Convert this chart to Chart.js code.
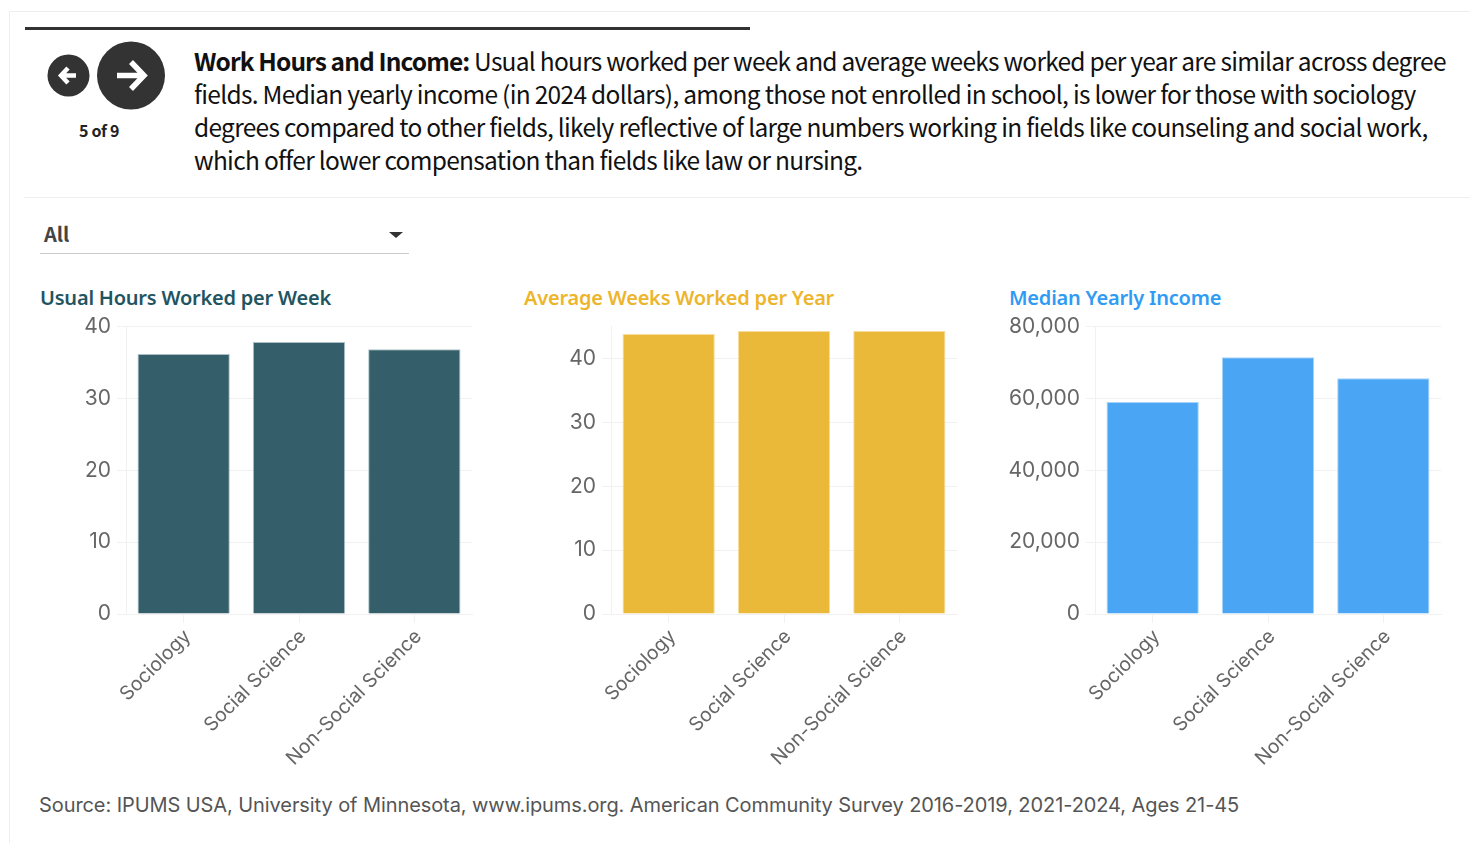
<!DOCTYPE html>
<html>
<head>
<meta charset="utf-8">
<script src="https://cdn.jsdelivr.net/npm/chart.js@4"></script>
<style>
  html, body { margin: 0; padding: 0; background: #fff; }
  body { width: 1470px; height: 843px; position: relative; overflow: hidden; font-family: "Noto Sans", sans-serif; }
  .abs { position: absolute; white-space: nowrap; }
  .line { font-family: "Noto Sans CJK SC", sans-serif; font-size: 24.5px; letter-spacing: -0.7px; color: #111; line-height: 33px; left: 194px; }
  .line b { font-weight: 700; letter-spacing: -0.9px; }
  .title { font-size: 20px; font-weight: 600; font-family: "Noto Sans", sans-serif; letter-spacing: -0.22px; top: 284px; }
  canvas { display: block; }
  .chart { position: absolute; top: 308px; width: 440px; height: 479px; }
</style>
</head>
<body>
<div class="abs" style="left:9px;top:11px;width:1461px;height:832px;border-left:1px solid #eee;border-top:1px solid #eee;box-sizing:border-box"></div>
<div class="abs" style="left:25px;top:27px;width:725px;height:3px;background:#333"></div>

<svg class="abs" style="left:47px;top:41px" width="120" height="70" viewBox="0 0 120 70">
  <circle cx="21.500" cy="34.500" r="21" fill="#333"/>
  <circle cx="84" cy="34.500" r="34" fill="#333"/>
  <path d="M29 34.500H15M21 27l-7 7.500 7 7.500" fill="none" stroke="#fff" stroke-width="4.500"/>
  <path d="M70 34.500h26M84 21l13 13.500-13 13.500" fill="none" stroke="#fff" stroke-width="5.500"/>
</svg>
<div class="abs" style="left:79px;top:118px;font-family:'Noto Sans CJK SC',sans-serif;font-size:16px;font-weight:700;letter-spacing:-0.3px;color:#222">5 of 9</div>

<div class="abs line" style="top:44px;letter-spacing:-0.74px"><b>Work Hours and Income:</b> Usual hours worked per week and average weeks worked per year are similar across degree</div>
<div class="abs line" style="top:77px">fields. Median yearly income (in 2024 dollars), among those not enrolled in school, is lower for those with sociology</div>
<div class="abs line" style="top:110px">degrees compared to other fields, likely reflective of large numbers working in fields like counseling and social work,</div>
<div class="abs line" style="top:143px">which offer lower compensation than fields like law or nursing.</div>

<div class="abs" style="left:24px;top:197px;width:1446px;height:1px;background:#eee"></div>
<div class="abs" style="left:44px;top:219px;font-family:'Noto Sans CJK SC',sans-serif;font-size:20px;font-weight:700;color:#444">All</div>
<div class="abs" style="left:389px;top:232px;width:0;height:0;border-left:7px solid transparent;border-right:7px solid transparent;border-top:6px solid #333"></div>
<div class="abs" style="left:40px;top:253px;width:369px;height:1px;background:#ccc"></div>

<div class="abs title" style="left:40px;color:#1f5561">Usual Hours Worked per Week</div>
<div class="abs title" style="left:524px;color:#edb52c">Average Weeks Worked per Year</div>
<div class="abs title" style="left:1009px;color:#2f9bf4">Median Yearly Income</div>

<div class="chart" style="left:40px"><canvas id="hours"></canvas></div>
<div class="chart" style="left:525px"><canvas id="weeks"></canvas></div>
<div class="chart" style="left:1009px"><canvas id="income"></canvas></div>

<div class="abs" style="left:39px;top:793px;font-size:20px;letter-spacing:-0.08px;color:#555;font-family:Inter,sans-serif">Source: IPUMS USA, University of Minnesota, www.ipums.org. American Community Survey 2016-2019, 2021-2024, Ages 21-45</div>

<script>
const categories = ["Sociology", "Social Science", "Non-Social Science"];
const hoursValues = [36.2, 37.85, 36.85];
const weeksValues = [43.85, 44.3, 44.3];
const incomeValues = [59000, 71500, 65600];
const hoursTicks = [0, 10, 20, 30, 40];
const weeksTicks = [0, 10, 20, 30, 40, 45];
const incomeTicks = [0, 20000, 40000, 60000, 80000];

const GRID_COLOR = "#f1f1f1";

// y axis width and x axis height are fixed so the three panels line up
const drawBars = (id, values, tickValues, fill, border, hideTop) => {
  const top = tickValues[tickValues.length - 1];
  new Chart(document.getElementById(id), {
    type: "bar",
    data: {
      labels: categories,
      datasets: [{
        data: values,
        backgroundColor: fill,
        borderColor: border,
        borderWidth: 1,
        categoryPercentage: 0.8,
        barPercentage: 1,
      }],
    },
    options: {
      responsive: true,
      maintainAspectRatio: false,
      animation: false,
      layout: { padding: { top: 10, right: 8, bottom: 0, left: 0 } },
      plugins: { legend: { display: false }, tooltip: { enabled: false } },
      scales: {
        x: {
          afterFit: (axis) => { axis.height = 173; },
          grid: { color: GRID_COLOR, offset: false, drawOnChartArea: false, tickLength: 9 },
          border: { color: GRID_COLOR },
          ticks: {
            color: "#666",
            font: { family: "Inter, sans-serif", size: 19.5 },
            minRotation: 45,
            maxRotation: 45,
            padding: 2,
            labelOffset: 4,
          },
        },
        y: {
          min: tickValues[0],
          max: top,
          afterFit: (axis) => { axis.width = 86; },
          afterBuildTicks: (axis) => { axis.ticks = tickValues.map((v) => ({ value: v })); },
          grid: {
            color: (ctx) => (hideTop && ctx.tick && ctx.tick.value === top ? "rgba(0,0,0,0)" : GRID_COLOR),
            tickLength: 9,
          },
          border: { color: GRID_COLOR },
          ticks: {
            color: "#666",
            font: { family: "Inter, sans-serif", size: 21 },
            padding: 6,
            callback: (v) => (hideTop && v === top ? "" : v.toLocaleString("en-US")),
          },
        },
      },
    },
  });
};

drawBars("hours", hoursValues, hoursTicks, "#335e6a", "#a9c0c6", false);
drawBars("weeks", weeksValues, weeksTicks, "#ebb939", "#f6dd9c", true);
drawBars("income", incomeValues, incomeTicks, "#4aa6f5", "#a6d3fa", false);
</script>
</body>
</html>
